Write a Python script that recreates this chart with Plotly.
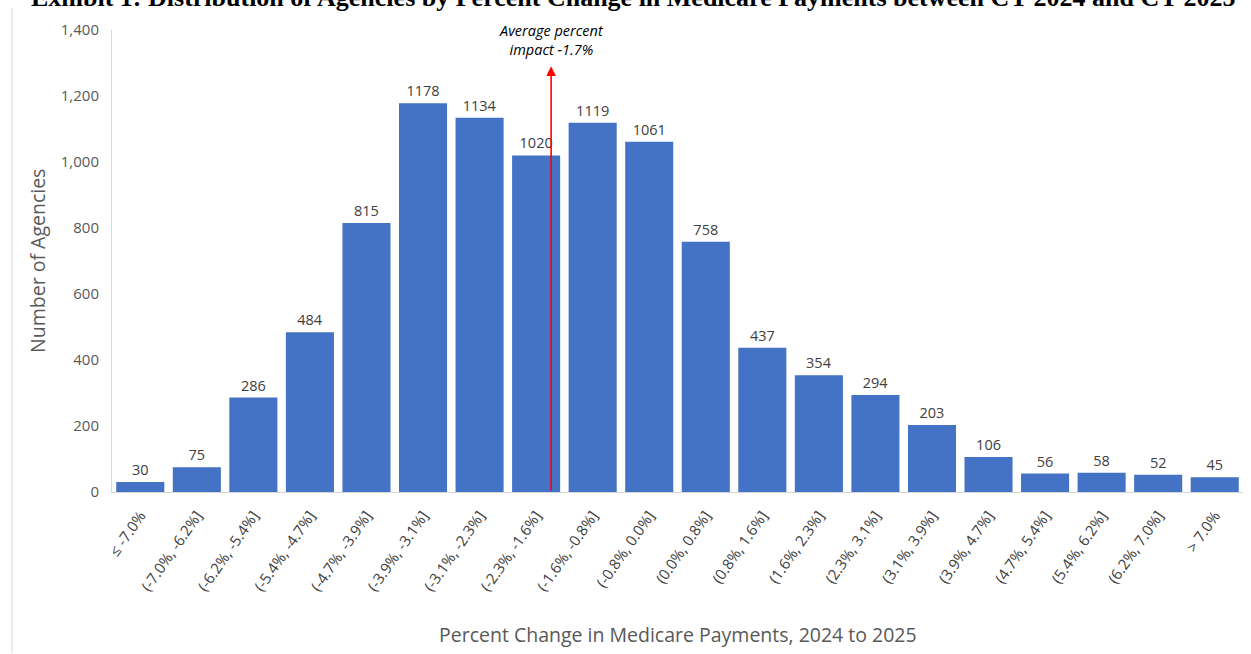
import plotly.graph_objects as go

categories = ["≤ -7.0%", "(-7.0%, -6.2%]", "(-6.2%, -5.4%]", "(-5.4%, -4.7%]", "(-4.7%, -3.9%]",
              "(-3.9%, -3.1%]", "(-3.1%, -2.3%]", "(-2.3%, -1.6%]", "(-1.6%, -0.8%]", "(-0.8%, 0.0%]",
              "(0.0%, 0.8%]", "(0.8%, 1.6%]", "(1.6%, 2.3%]", "(2.3%, 3.1%]", "(3.1%, 3.9%]",
              "(3.9%, 4.7%]", "(4.7%, 5.4%]", "(5.4%, 6.2%]", "(6.2%, 7.0%]", "> 7.0%"]
agencies = [30, 75, 286, 484, 815, 1178, 1134, 1020, 1119, 1061,
            758, 437, 354, 294, 203, 106, 56, 58, 52, 45]
y_ticks = [0, 200, 400, 600, 800, 1000, 1200, 1400]
avg_pos = 7.265
arrow_top = 1290

FONT = "Open Sans"
fig = go.Figure()
fig.add_trace(go.Bar(
    x=list(range(len(categories))), y=agencies,
    marker=dict(color="#4472C4", line=dict(width=0)),
    text=[str(v) for v in agencies], textposition="outside",
    textfont=dict(family=FONT, size=14.5, color="#404040"),
    cliponaxis=False, showlegend=False,
))

fig.add_annotation(x=avg_pos, y=arrow_top, ax=avg_pos, ay=0, xref="x", yref="y", axref="x", ayref="y",
                   showarrow=True, arrowhead=2, arrowsize=1.2, arrowwidth=1.6, arrowcolor="#FF0000", text="")
fig.add_annotation(x=avg_pos, y=arrow_top + 16, xref="x", yref="y", showarrow=False, yanchor="bottom",
                   text="<i>Average percent<br>impact -1.7%</i>",
                   font=dict(family=FONT, size=14.5, color="#000000"), align="center")

fig.add_annotation(x=0.4615, xref="paper", y=1.0714, yref="paper", yanchor="middle", showarrow=False,
                   text="<b>Exhibit 1: Distribution of Agencies by Percent Change in Medicare Payments between CY 2024 and CY 2025</b>",
                   font=dict(family="Liberation Serif", size=26, color="#000000"))
fig.add_annotation(x=0.5, xref="paper", y=-0.308, yref="paper", yanchor="middle", showarrow=False,
                   text="Percent Change in Medicare Payments, 2024 to 2025",
                   font=dict(family=FONT, size=19.5, color="#595959"))
fig.add_annotation(x=-0.0664, xref="paper", xanchor="center", y=0.5, yref="paper", yanchor="middle",
                   showarrow=False, textangle=-90,
                   text="Number of Agencies", font=dict(family=FONT, size=19.5, color="#595959"))

fig.update_layout(
    width=1251, height=654,
    margin=dict(l=112, r=8, t=30, b=162),
    paper_bgcolor="white", plot_bgcolor="white",
    bargap=0.15,
    xaxis=dict(tickmode="array", tickvals=list(range(len(categories))), ticktext=categories,
               tickangle=-55, tickfont=dict(family=FONT, size=15, color="#404040"),
               ticklabelstandoff=8,
               showline=True, linecolor="#D9D9D9", linewidth=1, ticks="", showgrid=False,
               range=[-0.5, len(categories) - 0.5]),
    yaxis=dict(range=[0, 1400], tickvals=y_ticks, tickformat=",", showgrid=False,
               tickfont=dict(family=FONT, size=15, color="#595959"),
               ticklabelstandoff=9,
               showline=True, linecolor="#D9D9D9", linewidth=1, ticks="", zeroline=False),
)
fig.add_shape(type="line", xref="paper", yref="paper", x0=-0.0885, x1=-0.0885, y0=-0.35, y1=1.048,
              line=dict(color="#D9D9D9", width=1))
fig.write_html("out.html")
